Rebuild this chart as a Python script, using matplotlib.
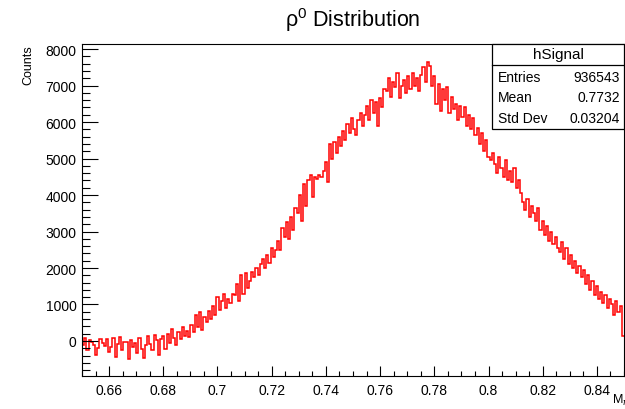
import numpy as np
import matplotlib
matplotlib.use('Agg')
import matplotlib.pyplot as plt
from matplotlib.ticker import MultipleLocator

# ── Data: bin contents (250 bins, 0.65 - 0.85) ──
x_min, x_max = 0.65, 0.85
counts = [
    -100, 80, -250, 40, -30, -120, -380, -180, 60, -60,
    -140, 50, -300, -160, 90, -450, -90, 110, -260, -40,
    -20, -500, 30, -170, -60, -320, 90, -220, -460, -110,
    140, -90, -260, 170, 40, -380, 60, 130, -210, 190,
    -60, 330, 90, -100, 240, 60, 380, 150, 260, 120,
    450, 250, 700, 380, 800, 300, 650, 520, 820, 600,
    950, 700, 1200, 850, 1100, 1280, 900, 1150, 1050, 1300,
    1250, 1550, 1100, 1800, 1300, 1850, 1450, 1650, 1900, 1750,
    2000, 1800, 2100, 2250, 2000, 2350, 2150, 2550, 2300, 2500,
    2750, 2500, 3100, 2850, 3250, 2800, 3400, 3050, 3650, 3500,
    4000, 3300, 4300, 3700, 4400, 4550, 3950, 4500, 4450, 4550,
    4500, 4650, 4900, 4350, 5400, 5000, 5450, 5150, 5600, 5350,
    5750, 5500, 5950, 5700, 6100, 5800, 5650, 6050, 6250, 5900,
    6200, 6450, 6050, 6600, 6250, 6550, 5900, 6650, 6400, 6900,
    6850, 7200, 6700, 7100, 6950, 7350, 6650, 7000, 7150, 6800,
    7250, 6900, 7350, 7000, 7200, 6850, 7300, 7500, 7100, 7650,
    7550, 7000, 7250, 6500, 7050, 6300, 6900, 6600, 6950, 6250,
    6700, 6350, 6500, 6050, 6450, 6150, 6400, 5900, 6200, 5800,
    6100, 5650, 5850, 5400, 5700, 5200, 5500, 5050, 4950, 5150,
    4850, 4600, 5050, 4750, 4500, 4950, 4400, 4650, 4350, 4750,
    4200, 4400, 4050, 3800, 3600, 3900, 3400, 3700, 3500, 3300,
    3650, 3050, 3300, 2900, 3150, 2750, 3000, 2650, 2850, 2550,
    2450, 2700, 2250, 2550, 2100, 2350, 2000, 2200, 1850, 2050,
    1750, 1950, 1550, 1800, 1400, 1650, 1250, 1500, 1150, 1350,
    1050, 1250, 900, 1150, 1000, 700, 1100, 800, 950, 150,
]
edges = np.linspace(x_min, x_max, len(counts) + 1)

stat_labels = ['Entries', 'Mean', 'Std Dev']
stat_values = ['936543', '0.7732', '0.03204']

plt.rcParams['font.family'] = ['Liberation Sans', 'DejaVu Sans']

W, H = 625, 410
fig = plt.figure(figsize=(W / 100, H / 100), dpi=100)
ax = fig.add_axes([82 / W, 1 - 377 / H, (624 - 82) / W, (377 - 45) / H])

ax.stairs(counts, edges, color='red', linewidth=1.1, baseline=None)

ax.set_xlim(x_min, x_max)
ax.set_ylim(-960, 8140)

ax.xaxis.set_major_locator(MultipleLocator(0.02))
ax.xaxis.set_minor_locator(MultipleLocator(0.005))
ax.yaxis.set_major_locator(MultipleLocator(1000))
ax.yaxis.set_minor_locator(MultipleLocator(200))
ax.xaxis.set_major_formatter(plt.FuncFormatter(lambda v, _: f'{v:g}'))

ax.tick_params(axis='both', which='both', direction='in', top=False, right=False,
               labelsize=10, width=0.8, colors='black')
ax.tick_params(axis='y', which='major', length=11.5, pad=4)
ax.tick_params(axis='y', which='minor', length=5.8)
ax.tick_params(axis='x', which='major', length=7.2, pad=5)
ax.tick_params(axis='x', which='minor', length=3.6)
for sp in ax.spines.values():
    sp.set_linewidth(0.8)

# title and axis labels (ROOT style)
fig.text(353 / W, 1 - 20 / H, r'$\mathregular{\rho^0}$ Distribution',
         ha='center', va='center', fontsize=15.5)
fig.text(28 / W, 1 - 45 / H, 'Counts', rotation=90, ha='center', va='top', fontsize=9)
fig.text(612 / W, 1 - 400 / H, r'M$_{\pi\pi}$', ha='left', va='center', fontsize=9)

# stats box
bx0, by0, bx1, by1 = 492 / W, 1 - 130 / H, 624 / W, 1 - 45 / H
fig.patches.append(plt.Rectangle((bx0, by0), bx1 - bx0, by1 - by0, transform=fig.transFigure,
                                 facecolor='white', edgecolor='black', linewidth=0.9, zorder=5))
fig.lines.append(plt.Line2D([bx0, bx1], [1 - 66 / H] * 2, transform=fig.transFigure,
                            color='black', linewidth=0.9, zorder=6))
fig.text((bx0 + bx1) / 2, 1 - 55 / H, 'hSignal', ha='center', va='center', fontsize=11, zorder=7)
for i, (lab, val) in enumerate(zip(stat_labels, stat_values)):
    yy = 1 - (78 + i * 20.5) / H
    fig.text(498 / W, yy, lab, ha='left', va='center', fontsize=10, zorder=7)
    fig.text(620 / W, yy, val, ha='right', va='center', fontsize=10, zorder=7)

fig.savefig('out.png', dpi=100, facecolor='white')
